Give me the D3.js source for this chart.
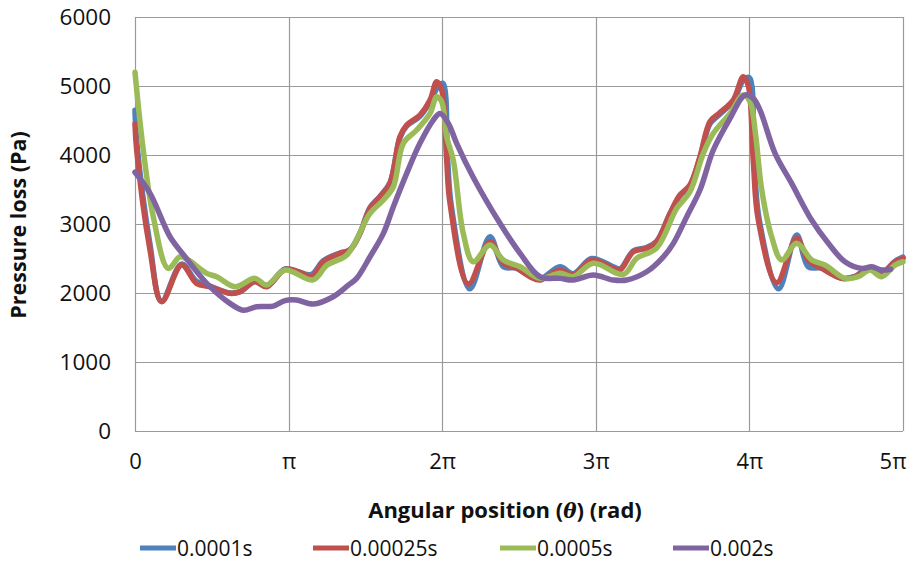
<!DOCTYPE html>
<html>
<head>
<meta charset="utf-8">
<script src="https://cdn.jsdelivr.net/npm/d3@7"></script>
<style>
  html, body { margin: 0; padding: 0; background: #fff; }
  svg { display: block; font-family: "Open Sans", Lato, "Liberation Sans", sans-serif; }
</style>
</head>
<body>
<svg id="chart" width="910" height="569"></svg>
<script>
// Angular position in multiples of π, pressure loss in Pa
const seriesNames = ["0.0001s", "0.00025s", "0.0005s", "0.002s"];
const seriesColors = ["#4F81BD", "#C0504D", "#9BBB59", "#8064A2"];

const xTickValues = [0, 1, 2, 3, 4, 5];
const xTickLabels = ["0", "π", "2π", "3π", "4π", "5π"];
const yTickValues = [0, 1000, 2000, 3000, 4000, 5000, 6000];

const dt0001 = [
  [0, 4650], [0.011, 4200], [0.098, 2700], [0.172, 1880], [0.304, 2420], [0.40, 2170],
  [0.488, 2100], [0.618, 2000], [0.684, 2020], [0.78, 2170], [0.857, 2100], [0.977, 2350],
  [1.06, 2310], [1.15, 2270], [1.226, 2470], [1.335, 2580], [1.40, 2630], [1.465, 2870],
  [1.53, 3240], [1.595, 3400], [1.66, 3600], [1.725, 4250], [1.769, 4420], [1.855, 4560],
  [1.921, 4770], [1.975, 5000], [2.005, 5040], [2.035, 3950], [2.06, 3250], [2.18, 2060],
  [2.311, 2815], [2.398, 2381], [2.485, 2360], [2.572, 2240], [2.637, 2200], [2.767, 2380],
  [2.853, 2280], [2.973, 2500], [3.114, 2380], [3.158, 2350], [3.244, 2610], [3.331, 2660],
  [3.396, 2750], [3.483, 3150], [3.548, 3410], [3.613, 3560], [3.678, 3960], [3.743, 4450],
  [3.802, 4580], [3.895, 4780], [3.965, 5100], [4.0, 5120], [4.03, 3950], [4.065, 3050],
  [4.19, 2060], [4.308, 2840], [4.383, 2381], [4.471, 2360], [4.601, 2215], [4.688, 2240],
  [4.774, 2360], [4.861, 2290], [4.948, 2460], [5.0, 2520]
];

const dt00025 = [
  [0, 4450], [0.011, 4070], [0.098, 2620], [0.174, 1873], [0.304, 2405], [0.40, 2140],
  [0.488, 2090], [0.618, 1995], [0.684, 2018], [0.78, 2163], [0.857, 2090], [0.977, 2343],
  [1.074, 2300], [1.15, 2236], [1.226, 2453], [1.335, 2575], [1.40, 2623], [1.465, 2864],
  [1.53, 3227], [1.595, 3395], [1.66, 3589], [1.725, 4264], [1.769, 4434], [1.855, 4579],
  [1.921, 4796], [1.964, 5062], [1.997, 4941], [2.029, 3927], [2.051, 3299], [2.17, 2130],
  [2.311, 2743], [2.398, 2430], [2.485, 2357], [2.572, 2236], [2.637, 2188], [2.767, 2333],
  [2.853, 2260], [2.973, 2478], [3.114, 2357], [3.158, 2333], [3.244, 2598], [3.331, 2647],
  [3.396, 2743], [3.483, 3154], [3.548, 3420], [3.613, 3565], [3.678, 3975], [3.743, 4482],
  [3.802, 4603], [3.895, 4796], [3.96, 5134], [3.993, 5000], [4.025, 3927], [4.058, 3057],
  [4.178, 2150], [4.308, 2792], [4.383, 2478], [4.471, 2357], [4.601, 2212], [4.688, 2236],
  [4.774, 2357], [4.861, 2285], [4.948, 2453], [5.0, 2502]
];

const dt0005 = [
  [0, 5200], [0.054, 4070], [0.119, 3106], [0.216, 2357], [0.293, 2525], [0.347, 2478],
  [0.467, 2285], [0.532, 2236], [0.651, 2090], [0.781, 2212], [0.857, 2115], [0.977, 2333],
  [1.16, 2190], [1.25, 2405], [1.379, 2550], [1.53, 3154], [1.617, 3347], [1.682, 3540],
  [1.747, 4169], [1.834, 4362], [1.921, 4603], [1.964, 4844], [1.997, 4771], [2.029, 4264],
  [2.072, 3927], [2.137, 2864], [2.202, 2453], [2.311, 2695], [2.398, 2478], [2.507, 2381],
  [2.637, 2212], [2.767, 2285], [2.853, 2236], [2.984, 2430], [3.179, 2270], [3.266, 2502],
  [3.396, 2650], [3.527, 3227], [3.613, 3468], [3.70, 4024], [3.765, 4314], [3.874, 4603],
  [3.96, 4869], [4.004, 4771], [4.04, 4300], [4.08, 3500], [4.145, 2815], [4.21, 2478],
  [4.308, 2720], [4.406, 2478], [4.492, 2405], [4.622, 2212], [4.709, 2236], [4.785, 2333],
  [4.861, 2236], [4.948, 2405], [5.0, 2453]
];

const dt002 = [
  [0, 3750], [0.098, 3444], [0.228, 2815], [0.326, 2525], [0.467, 2140], [0.618, 1850],
  [0.705, 1750], [0.792, 1801], [0.90, 1810], [0.977, 1890], [1.05, 1898], [1.16, 1840],
  [1.29, 1946], [1.389, 2115], [1.443, 2212], [1.53, 2525], [1.617, 2864], [1.682, 3250],
  [1.769, 3734], [1.855, 4169], [1.942, 4506], [1.986, 4603], [2.04, 4459], [2.094, 4169],
  [2.2, 3685], [2.376, 3010], [2.507, 2575], [2.637, 2236], [2.767, 2212], [2.853, 2188],
  [2.984, 2260], [3.114, 2188], [3.201, 2188], [3.331, 2308], [3.44, 2525], [3.505, 2720],
  [3.592, 3106], [3.678, 3492], [3.765, 4072], [3.874, 4531], [3.971, 4869], [4.025, 4820],
  [4.069, 4651], [4.167, 4024], [4.275, 3589], [4.405, 3057], [4.514, 2720], [4.622, 2453],
  [4.731, 2357], [4.796, 2381], [4.861, 2333], [4.92, 2345]
];

const seriesData = [dt0001, dt00025, dt0005, dt002];

const svg = d3.select("#chart");
const plot = { left: 135, right: 903, top: 17, bottom: 431 };

const x = d3.scaleLinear().domain([0, 5]).range([plot.left, plot.right]);
const y = d3.scaleLinear().domain([0, 6000]).range([plot.bottom, plot.top]);

const gridColor = "#9a9a9a";

// Horizontal gridlines
svg.append("g")
  .selectAll("line")
  .data(yTickValues)
  .join("line")
  .attr("x1", plot.left).attr("x2", plot.right)
  .attr("y1", d => Math.round(y(d)) + 0.5).attr("y2", d => Math.round(y(d)) + 0.5)
  .attr("stroke", gridColor).attr("stroke-width", 1.2);

// Vertical gridlines
svg.append("g")
  .selectAll("line")
  .data(xTickValues)
  .join("line")
  .attr("x1", d => Math.round(x(d)) + 0.5).attr("x2", d => Math.round(x(d)) + 0.5)
  .attr("y1", plot.top).attr("y2", plot.bottom)
  .attr("stroke", gridColor).attr("stroke-width", 1.2);

// Y tick labels
const yAxis = d3.axisLeft(y).tickValues(yTickValues).tickFormat(d3.format("d"))
  .tickSize(0).tickPadding(24);
const gy = svg.append("g").attr("transform", `translate(${plot.left},0)`).call(yAxis);
gy.select(".domain").remove();
gy.selectAll("text").attr("font-size", 22.5).attr("fill", "#111")
  .attr("font-family", "'Open Sans', sans-serif");

// X tick labels
const xAxis = d3.axisBottom(x).tickValues(xTickValues)
  .tickFormat((d, i) => xTickLabels[i]).tickSize(0).tickPadding(22);
const gx = svg.append("g").attr("transform", `translate(0,${plot.bottom})`).call(xAxis);
gx.select(".domain").remove();
gx.selectAll("text").attr("font-size", 22).attr("fill", "#111")
  .attr("font-family", "'Open Sans', sans-serif");
// keep the last label inside the canvas
gx.selectAll(".tick").filter(d => d === 5).select("text")
  .attr("text-anchor", "end").attr("x", 3);

// Series lines
const line = d3.line()
  .x(d => x(d[0]))
  .y(d => y(d[1]))
  .curve(d3.curveCatmullRom.alpha(0.5));

svg.append("g")
  .selectAll("path")
  .data(seriesData)
  .join("path")
  .attr("d", line)
  .attr("fill", "none")
  .attr("stroke", (d, i) => seriesColors[i])
  .attr("stroke-width", 5.5)
  .attr("stroke-linejoin", "round")
  .attr("stroke-linecap", "round");

// Axis titles
svg.append("text")
  .attr("transform", "translate(26,225) rotate(-90)")
  .attr("text-anchor", "middle")
  .attr("font-size", 21.5).attr("font-weight", "bold").attr("fill", "#111")
  .text("Pressure loss (Pa)");

const xt = svg.append("text")
  .attr("x", 505).attr("y", 518)
  .attr("text-anchor", "middle")
  .attr("font-size", 22).attr("font-weight", "bold").attr("fill", "#111");
xt.append("tspan").text("Angular position  (");
xt.append("tspan").attr("font-style", "italic").attr("font-family", "'DejaVu Serif', serif").attr("font-size", 20).text("θ");
xt.append("tspan").text(") (rad)");

// Legend
const legendX = [140, 313, 500, 673];
const legend = svg.append("g")
  .selectAll("g")
  .data(seriesNames)
  .join("g")
  .attr("transform", (d, i) => `translate(${legendX[i]},548)`);
legend.append("line")
  .attr("x1", 0).attr("x2", 36).attr("y1", 0).attr("y2", 0)
  .attr("stroke", (d, i) => seriesColors[i]).attr("stroke-width", 5);
legend.append("text")
  .attr("x", 37).attr("y", 7.5)
  .attr("font-size", 21).attr("fill", "#111")
  .text(d => d);
</script>
</body>
</html>
